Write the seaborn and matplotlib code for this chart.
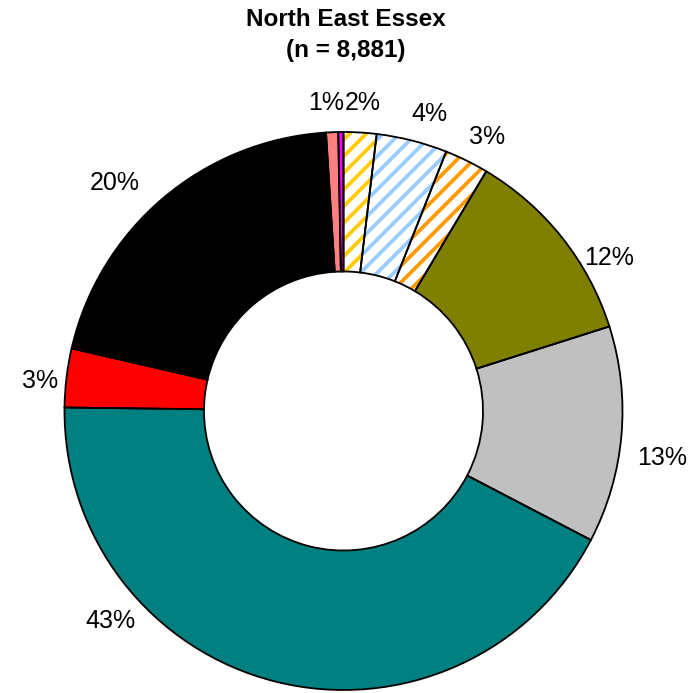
import numpy as np
import matplotlib
matplotlib.use('Agg')
import matplotlib.pyplot as plt
import seaborn as sns

sns.set_theme(style='white')
plt.rcParams['font.family'] = ['Liberation Sans', 'DejaVu Sans']
plt.rcParams['hatch.linewidth'] = 2.7

# data (clockwise from 12 o'clock)
segments = ['Yellow', 'Blue', 'Orange', 'Olive', 'Silver', 'Teal', 'Red', 'Black', 'Salmon', 'Magenta']
shares = [1.9, 4.1, 2.55, 11.55, 12.55, 42.55, 3.4, 20.4, 0.7, 0.3]
fills = ['white', 'white', 'white', '#808000', '#C0C0C0', '#008080', '#FF0000', '#000000', '#FF8080', '#FF00FF']
stripes = ['#FFCC00', '#99CCFF', '#FF9900', None, None, None, None, None, None, None]
title_1 = 'North East Essex'
title_2 = '(n = 8,881)'

fig = plt.figure(figsize=(6.99, 6.93), dpi=100)
ax = fig.add_axes([0, 0, 1, 1])

r_px = 279
cx, cy = 343.5, 693 - 411

# fill + hatch pass
wedges, _ = ax.pie(shares, colors=fills, startangle=90, counterclock=False,
                   wedgeprops=dict(width=0.5, linewidth=0))
for w, s in zip(wedges, stripes):
    if s is not None:
        w.set_hatch('//')
        w.set_edgecolor(s)
        w.set_linewidth(0)

# outline pass with labels
def fmt(p):
    return f'{p:.0f}%' if p >= 0.5 else ''

w2, _, pcts = ax.pie(shares, colors=['none'] * len(shares), startangle=90, counterclock=False,
                     autopct=fmt, pctdistance=1.12,
                     wedgeprops=dict(width=0.5, linewidth=1.3, edgecolor='black'),
                     textprops=dict(fontsize=18, color='black'))

# label placement, Excel style (angle clockwise from top, radius)
spots = {'Salmon': (-3.25, 1.106), 'Yellow': (3.6, 1.106), 'Blue': (16.2, 1.11),
         'Orange': (27.6, 1.11), 'Olive': (60.1, 1.10), 'Silver': (98.4, 1.154),
         'Teal': (228.0, 1.126), 'Red': (275.6, 1.093), 'Black': (314.9, 1.157)}
for name, t in zip(segments, pcts):
    if name in spots:
        a, r = spots[name]
        t.set_position((r * np.sin(np.radians(a)), r * np.cos(np.radians(a))))

ax.set_xlim(-cx / r_px, (699 - cx) / r_px)
ax.set_ylim(-cy / r_px, (693 - cy) / r_px)
ax.set_aspect('auto')
ax.axis('off')

fig.text(346 / 699, 1 - 19 / 693, title_1, ha='center', va='center', fontsize=17.5,
         fontweight='bold', color='black')
fig.text(346 / 699, 1 - 50 / 693, title_2, ha='center', va='center', fontsize=17.5,
         fontweight='bold', color='black')

fig.savefig('out.png', dpi=100)
